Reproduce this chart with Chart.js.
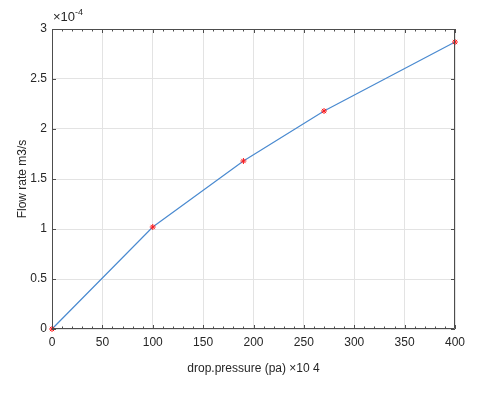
<!DOCTYPE html>
<html>
<head>
<meta charset="utf-8">
<script src="https://cdn.jsdelivr.net/npm/chart.js@4"></script>
<style>
  body { margin: 0; background: #fff; }
  #wrap { width: 480px; height: 393px; }
</style>
</head>
<body>
<div id="wrap"><canvas id="c" width="480" height="393"></canvas></div>
<script>
// values
const pressure = [0, 100, 190, 270, 400];
const flowRate = [0, 1.02e-4, 1.68e-4, 2.18e-4, 2.87e-4];
const xTickValues = [0, 50, 100, 150, 200, 250, 300, 350, 400];
const yTickValues = [0, 0.5e-4, 1e-4, 1.5e-4, 2e-4, 2.5e-4, 3e-4];

const axisColor = "#4d4d4d";
const textColor = "#262626";
const tickFont = { family: "'Liberation Sans', Arial, sans-serif", size: 12 };

// MATLAB-ish box: top/right edges, inward ticks, minor x ticks, exponent label
const boxPlugin = {
  id: "boxPlugin",
  afterDraw(chart) {
    const { ctx, chartArea: a, scales } = chart;
    const xs = scales.x, ys = scales.y;
    ctx.save();
    ctx.strokeStyle = axisColor;
    ctx.lineWidth = 1;
    ctx.beginPath();
    ctx.rect(a.left + 0.5, a.top + 0.5, a.right - a.left - 1, a.bottom - a.top - 1);
    ctx.stroke();

    ctx.beginPath();
    for (let v = 0; v <= 400; v += 10) {
      const px = Math.round(xs.getPixelForValue(v)) + 0.5;
      const len = v % 50 === 0 ? 4 : 2.5;
      ctx.moveTo(px, a.bottom);
      ctx.lineTo(px, a.bottom - len);
      ctx.moveTo(px, a.top);
      ctx.lineTo(px, a.top + len);
    }
    yTickValues.forEach((v) => {
      const py = Math.round(ys.getPixelForValue(v)) + 0.5;
      ctx.moveTo(a.left, py);
      ctx.lineTo(a.left + 4, py);
      ctx.moveTo(a.right, py);
      ctx.lineTo(a.right - 4, py);
    });
    ctx.stroke();

    ctx.fillStyle = textColor;
    ctx.textBaseline = "alphabetic";
    ctx.textAlign = "left";
    ctx.font = "13px 'Liberation Sans', Arial, sans-serif";
    ctx.fillText("\u00d710", a.left + 1, a.top - 8);
    const w = ctx.measureText("\u00d710").width;
    ctx.font = "9px 'Liberation Sans', Arial, sans-serif";
    ctx.fillText("-4", a.left + 1 + w, a.top - 14);
    ctx.restore();
  },
};

new Chart(document.getElementById("c"), {
  type: "scatter",
  data: {
    datasets: [
      {
        data: pressure.map((p, i) => ({ x: p, y: flowRate[i] })),
        showLine: true,
        borderColor: "#4a8ad0",
        backgroundColor: "#4a8ad0",
        borderWidth: 1.2,
        tension: 0,
        pointStyle: "star",
        pointRadius: 3,
        pointBorderColor: "#ff1a1a",
        pointBackgroundColor: "#ff1a1a",
        pointBorderWidth: 1,
        clip: false,
      },
    ],
  },
  options: {
    responsive: false,
    animation: false,
    layout: { padding: { top: 29, right: 25, left: 0, bottom: 0 } },
    plugins: { legend: { display: false }, tooltip: { enabled: false } },
    scales: {
      x: {
        type: "linear",
        min: 0,
        max: 400,
        afterFit(scale) { scale.height = 64; },
        afterBuildTicks(scale) { scale.ticks = xTickValues.map((v) => ({ value: v })); },
        grid: { color: "#e3e3e3", drawTicks: false },
        border: { display: false },
        ticks: { color: textColor, font: tickFont, padding: 6, maxRotation: 0 },
        title: {
          display: true,
          text: "drop.pressure (pa) \u00d710 4",
          color: textColor,
          font: tickFont,
          padding: { bottom: 17 },
        },
      },
      y: {
        type: "linear",
        min: 0,
        max: 3e-4,
        afterFit(scale) { scale.width = 52; },
        afterBuildTicks(scale) { scale.ticks = yTickValues.map((v) => ({ value: v })); },
        grid: { color: "#e3e3e3", drawTicks: false },
        border: { display: false },
        ticks: {
          color: textColor,
          font: tickFont,
          padding: 5,
          callback: (v) => String(+(v * 1e4).toFixed(2)),
        },
        title: {
          display: true,
          text: "Flow rate m3/s",
          color: textColor,
          font: tickFont,
          padding: { top: 15 },
        },
      },
    },
  },
  plugins: [boxPlugin],
});
</script>
</body>
</html>
